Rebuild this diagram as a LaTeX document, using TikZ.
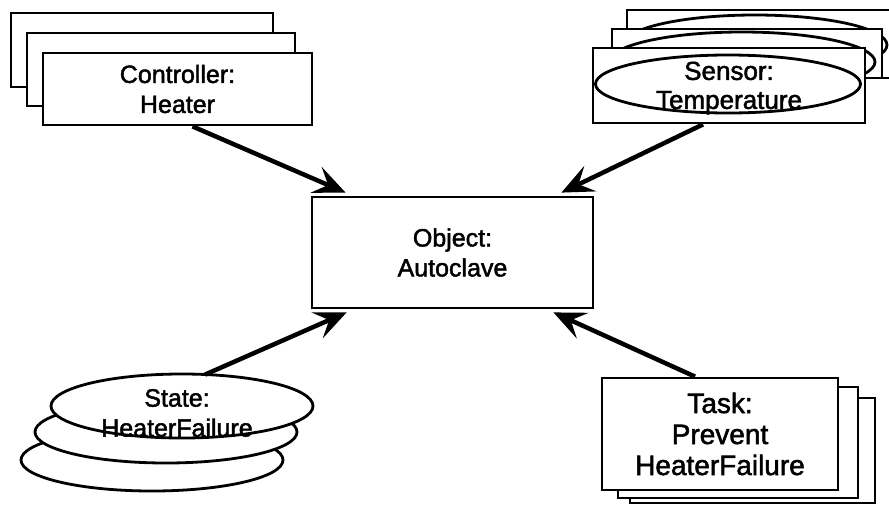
\documentclass[tikz,border=0pt]{standalone}
\usepackage{fontspec}
\setmainfont{Liberation Sans}[FakeBold=1.8]
\usetikzlibrary{arrows.meta,calc,shapes.geometric}
\begin{document}
\begin{tikzpicture}[x=1pt,y=-1pt,
  box/.style={draw, line width=2.8pt, fill=white, rectangle, inner sep=0pt},
  oval/.style={draw, line width=2.8pt, fill=white, ellipse, inner sep=0pt},
  txt/.style={font=\fontsize{25}{30}\selectfont, align=center},
  bigtxt/.style={font=\fontsize{28}{31}\selectfont, align=center},
  link/.style={line width=4.5pt, -{Stealth[length=32pt,width=28pt,inset=13pt]}}]
\useasboundingbox (0,0) rectangle (889,504);

% Controller: stacked boxes
\node[box, minimum width=262pt, minimum height=74pt] (ctrl3) at (142,50) {};
\node[box, minimum width=268pt, minimum height=73pt] (ctrl2) at (161,69.5) {};
\node[box, minimum width=269pt, minimum height=72pt, txt] (ctrl) at (177.5,89) {Controller:\\Heater};

% Sensor: stacked boxes, each with an oval inside
\node[box, minimum width=278pt, minimum height=68pt] (sensor3) at (766,44) {};
\node[oval, minimum width=264pt, minimum height=60pt] (sensor3e) at (755,45) {};
\node[box, minimum width=270pt, minimum height=49pt] (sensor2) at (747,53.5) {};
\node[oval, minimum width=266pt, minimum height=60pt] (sensor2e) at (742,62) {};
\node[box, minimum width=272pt, minimum height=75pt] (sensor) at (729,85.5) {};
\node[oval, minimum width=265pt, minimum height=58pt] (sensore) at (728,84) {};
\node[txt, font=\fontsize{26}{29}\selectfont] (sensortxt) at (729,88) {Sensor:\\Temperature};

% Central object
\node[box, minimum width=281pt, minimum height=111pt, txt] (obj) at (452.5,252.5) {Object:\\Autoclave};

% State: stacked ovals
\node[oval, minimum width=262pt, minimum height=62pt] (state3) at (152,460) {};
\node[oval, minimum width=262pt, minimum height=62pt] (state2) at (166,432) {};
\node[oval, minimum width=262pt, minimum height=64pt] (state) at (182,406) {};
\node[txt] (statetxt) at (177,413) {State:\\HeaterFailure};

% Task: stacked boxes
\node[box, minimum width=245pt, minimum height=105pt] (task3) at (752.5,450.5) {};
\node[box, minimum width=240pt, minimum height=111pt] (task2) at (738,442.5) {};
\node[box, minimum width=236pt, minimum height=112pt, bigtxt] (task) at (720,434) {Task:\\Prevent\\HeaterFailure};

% Connectors into the object
\draw[link] ($(ctrl.south)+(15,0)$) -- ($(obj.north west)+(35,-3)$);
\draw[link] ($(sensor.south)+(-26,0)$) -- ($(obj.north east)+(-33,-3)$);
\draw[link] ($(state.north)+(23,2)$) -- ($(obj.south west)+(36,3)$);
\draw[link] ($(task.north)+(-25,0)$) -- ($(obj.south east)+(-41,3)$);
\end{tikzpicture}
\end{document}
